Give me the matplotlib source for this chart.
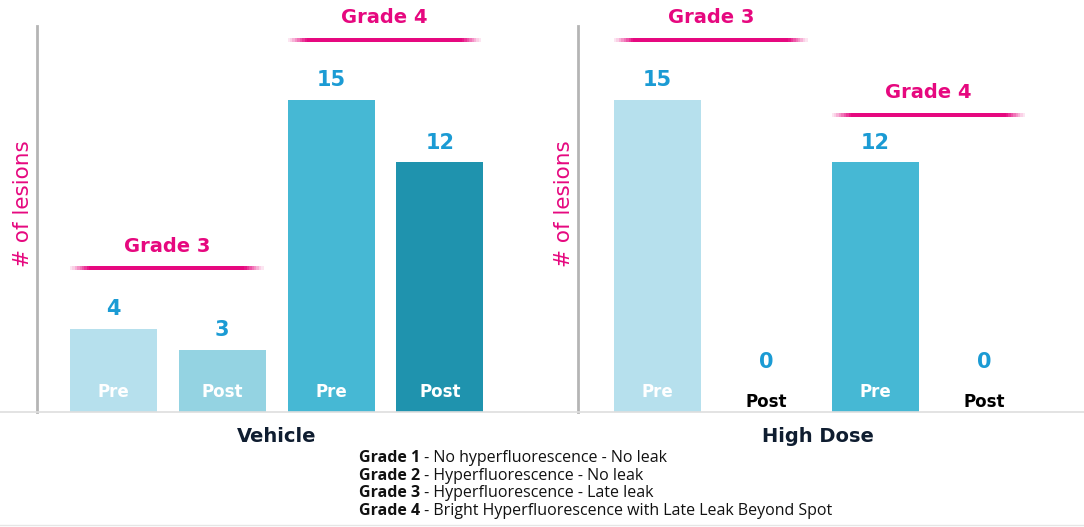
import numpy as np
import matplotlib
matplotlib.use("Agg")
import matplotlib.pyplot as plt
from matplotlib.collections import LineCollection
from matplotlib.lines import Line2D

# lesion counts per group: Grade 3 Pre/Post, Grade 4 Pre/Post
groups = ["Vehicle", "High Dose"]
phases = ["Pre", "Post", "Pre", "Post"]
grades = ["Grade 3", "Grade 4"]
vehicle_counts = [4, 3, 15, 12]
high_dose_counts = [15, 0, 12, 0]

grade_notes = [
    ("Grade 1", " - No hyperfluorescence - No leak"),
    ("Grade 2", " - Hyperfluorescence - No leak"),
    ("Grade 3", " - Hyperfluorescence - Late leak"),
    ("Grade 4", " - Bright Hyperfluorescence with Late Leak Beyond Spot"),
]

bar_colors = ["#b6e0ed", "#94d3e2", "#46b8d4", "#1f93ae"]
PINK = "#e6087f"
BLUE = "#1b9bd4"
NAVY = "#0f1d30"
FONT = "DejaVu Sans"

W, H = 1084, 527
fig = plt.figure(figsize=(W / 100, H / 100), dpi=100)


def fade_line(ax, x0, x1, y, color, lw=2.6, n=80):
    # bracket line that fades out at both ends
    xs = np.linspace(x0, x1, n + 1)
    segs = [[(xs[i], y), (xs[i + 1], y)] for i in range(n)]
    t = (np.arange(n) + 0.5) / n
    alpha = np.clip(np.minimum(t, 1 - t) / 0.1, 0.1, 1)
    rgba = [matplotlib.colors.to_rgba(color, a) for a in alpha]
    lc = LineCollection(segs, colors=rgba, linewidths=lw, clip_on=False,
                        capstyle="butt", antialiaseds=False)
    ax.add_collection(lc)


def draw_panel(rect, xmin, counts, colors, bracket_gap, title):
    ax = fig.add_axes(rect)
    x = np.arange(len(counts))
    ax.bar(x, counts, width=0.8, color=colors, zorder=2)
    ax.set_xlim(xmin, xmin + 500 / 108.8)
    ax.set_ylim(0, 386 / 20.8)
    for s in ["top", "right", "bottom"]:
        ax.spines[s].set_visible(False)
    ax.spines["left"].set_color("#b5b5b5")
    ax.spines["left"].set_linewidth(2)
    ax.set_xticks([])
    ax.set_yticks([])
    ax.patch.set_alpha(0)

    for xi, v, ph in zip(x, counts, phases):
        ax.text(xi, max(v, 1.45) + 0.95, str(v), ha="center", va="center",
                fontsize=15, fontweight="bold", color=BLUE, family=FONT)
        if v > 0:
            ax.text(xi, 0.95, ph, ha="center", va="center", fontsize=12,
                    fontweight="bold", color="white", family=FONT)
        else:
            ax.text(xi, 0.5, ph, ha="center", va="center", fontsize=12,
                    fontweight="bold", color="black", family=FONT)

    for g, name in enumerate(grades):
        top = max(counts[2 * g:2 * g + 2])
        y = top + bracket_gap[g]
        x0, x1 = 2 * g - 0.4, 2 * g + 1.38
        fade_line(ax, x0, x1, y, PINK)
        ax.text((x0 + x1) / 2, y + 1.05, name, ha="center", va="center",
                fontsize=14, fontweight="bold", color=PINK, family=FONT,
                clip_on=False)

    ax.text(xmin - 14 / 108.8, 10, "# of lesions", rotation=90,
            ha="center", va="center", fontsize=15.5, color=PINK, family=FONT)
    ax.text(xmin + 240 / 108.8, -25 / 20.8, title, ha="center", va="center",
            fontsize=14, fontweight="bold", color=NAVY, family=FONT,
            clip_on=False)
    return ax


ax_l = draw_panel([37 / W, 115 / H, 500 / W, 386 / H], -0.703,
                  vehicle_counts, bar_colors, [2.9, 2.9], groups[0])
ax_r = draw_panel([578 / W, 115 / H, 500 / W, 386 / H], -0.731,
                  high_dose_counts,
                  [bar_colors[0], "none", bar_colors[2], "none"],
                  [2.9, 2.3], groups[1])

# thin baseline across the full width
fig.add_artist(Line2D([0, 1], [115 / H, 115 / H], color="#dedede", lw=1.2,
                      transform=fig.transFigure))
fig.add_artist(Line2D([0, 1], [2 / H, 2 / H], color="#e6e6e6", lw=1,
                      transform=fig.transFigure))

# grade definitions under the panels
renderer = fig.canvas.get_renderer()
for i, (bold, rest) in enumerate(grade_notes):
    y = (H - 458 - 17.6 * i) / H
    t = fig.text(359 / W, y, bold, ha="left", va="center", fontsize=11.5,
                 fontweight="bold", color="#111111", family="Open Sans")
    bb = t.get_window_extent(renderer)
    fig.text(bb.x1 / W, y, rest, ha="left", va="center", fontsize=11.5,
             color="#111111", family="Open Sans")

fig.savefig("out.png", dpi=100)
